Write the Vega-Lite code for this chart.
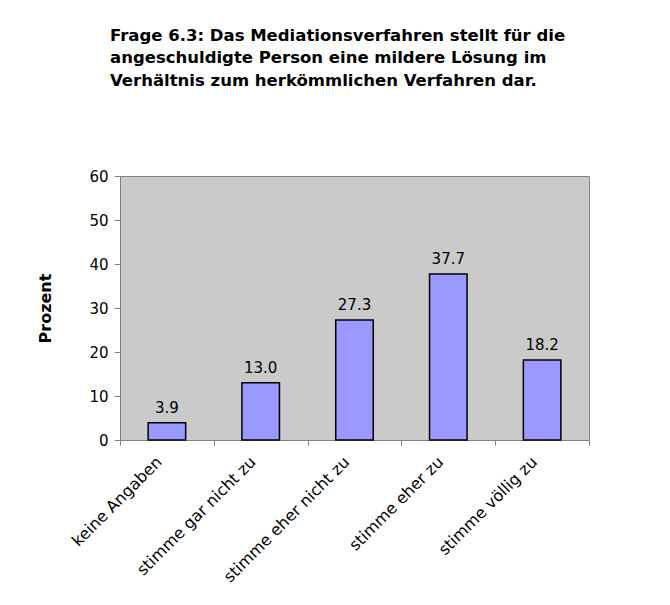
{
  "$schema": "https://vega.github.io/schema/vega-lite/v6.json",
  "width": 469,
  "height": 264,
  "autosize": {"type": "none"},
  "padding": {"left": 120, "top": 176, "right": 81, "bottom": 165},
  "background": "white",
  "title": {
    "text": ["Frage 6.3: Das Mediationsverfahren stellt für die", "angeschuldigte Person eine mildere Lösung im", "Verhältnis zum herkömmlichen Verfahren dar."],
    "anchor": "start",
    "frame": "group",
    "dx": -10,
    "offset": 80,
    "font": "DejaVu Sans",
    "fontSize": 16.5,
    "fontWeight": "bold",
    "lineHeight": 22.5,
    "color": "black"
  },
  "data": {
    "values": [
      {"Antwort": "keine Angaben", "Prozent": 3.9},
      {"Antwort": "stimme gar nicht zu", "Prozent": 13.0},
      {"Antwort": "stimme eher nicht zu", "Prozent": 27.3},
      {"Antwort": "stimme eher zu", "Prozent": 37.7},
      {"Antwort": "stimme völlig zu", "Prozent": 18.2}
    ]
  },
  "config": {
    "view": {"fill": "#CACACA", "stroke": "#808080", "strokeWidth": 1},
    "axis": {"labelFont": "DejaVu Sans", "labelColor": "black", "domainColor": "#808080", "tickColor": "#808080", "grid": false}
  },
  "encoding": {
    "x": {
      "field": "Antwort",
      "type": "nominal",
      "sort": null,
      "scale": {"paddingInner": 0, "paddingOuter": 0},
      "axis": {
        "title": null,
        "labelAngle": -45,
        "labelAlign": "right",
        "labelBaseline": "middle",
        "labelFontSize": 16,
        "labelPadding": 14,
        "labelOffset": -8,
        "tickBand": "extent",
        "tickSize": 5
      }
    },
    "y": {
      "field": "Prozent",
      "type": "quantitative",
      "scale": {"domain": [0, 60], "nice": false},
      "axis": {
        "values": [0, 10, 20, 30, 40, 50, 60],
        "title": "Prozent",
        "titleFont": "DejaVu Sans",
        "titleFontSize": 16,
        "titleFontWeight": "bold",
        "titleColor": "black",
        "titleX": -75,
        "titleY": 132,
        "titleAlign": "center",
        "titleBaseline": "middle",
        "labelFontSize": 15,
        "labelPadding": 6,
        "tickSize": 6
      }
    }
  },
  "layer": [
    {
      "mark": {"type": "bar", "fill": "#9999FF", "stroke": "black", "strokeWidth": 1.5, "width": {"band": 0.4}}
    },
    {
      "mark": {"type": "text", "baseline": "bottom", "dy": -7, "font": "DejaVu Sans", "fontSize": 15, "color": "black"},
      "encoding": {"text": {"field": "Prozent", "type": "quantitative", "format": ".1f"}}
    }
  ]
}
